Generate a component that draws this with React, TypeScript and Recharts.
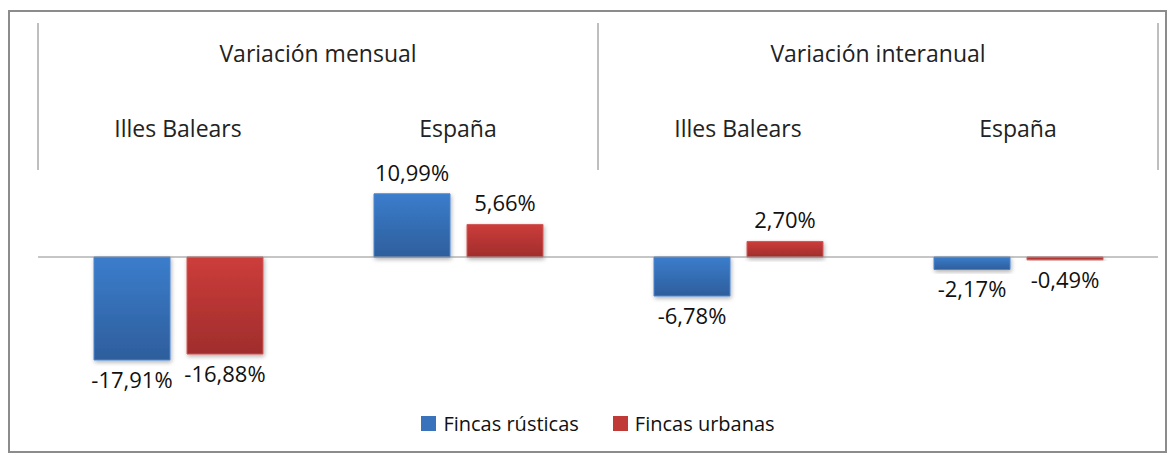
import { Bar, BarChart, LabelList, Legend, ReferenceLine, XAxis, YAxis } from "recharts";

const groups = ["Variación mensual", "Variación interanual"];
const regions = ["Illes Balears", "España", "Illes Balears", "España"];
const rusticas = [-17.91, 10.99, -6.78, -2.17];
const urbanas = [-16.88, 5.66, 2.7, -0.49];

const data = regions.map((region, i) => ({
  key: `${i}`,
  region,
  group: groups[Math.floor(i / 2)],
  rusticas: rusticas[i],
  urbanas: urbanas[i],
}));

const font = "'Open Sans', Lato, sans-serif";
const fmt = (v: number) => `${v.toFixed(2).replace(".", ",")}%`;

function CategoryTick(props: any) {
  const { x, index, payload } = props;
  const band = 280;
  const row = data[index];
  return (
    <g>
      <text x={x} y={125} textAnchor="middle" fontSize={23} fill="#222" fontFamily={font}>
        {row ? row.region : payload.value}
      </text>
      {index % 2 === 0 && (
        <>
          <line x1={x - band / 2} x2={x - band / 2} y1={11} y2={158} stroke="#7f7f7f" />
          <text x={x + band / 2} y={50} textAnchor="middle" fontSize={23} fill="#222" fontFamily={font}>
            {row.group}
          </text>
        </>
      )}
      {index === data.length - 1 && (
        <line x1={x + band / 2} x2={x + band / 2} y1={11} y2={158} stroke="#7f7f7f" />
      )}
    </g>
  );
}

function ValueLabel(props: any) {
  const { x, y, width, height, value } = props;
  const top = Math.min(y, y + height);
  const bottom = Math.max(y, y + height);
  const cx = x + width / 2;
  const ty = value < 0 ? bottom + 28 : top - 13;
  return (
    <text x={cx} y={ty} textAnchor="middle" fontSize={22} fill="#111" fontFamily={font}>
      {fmt(value)}
    </text>
  );
}

function LegendBox() {
  const items = [
    { name: "Fincas rústicas", solid: "#3a72bb" },
    { name: "Fincas urbanas", solid: "#c03a38" },
  ];
  return (
    <div style={{ display: "flex", justifyContent: "center", gap: 34, height: 24, alignItems: "center", fontFamily: font, fontSize: 20, color: "#111" }}>
      {items.map((it) => (
        <div key={it.name} style={{ display: "flex", alignItems: "center", gap: 7 }}>
          <span style={{ width: 15, height: 15, background: it.solid, display: "inline-block" }} />
          <span>{it.name}</span>
        </div>
      ))}
    </div>
  );
}

export default function App() {
  return (
    <div
      style={{
        width: 1159,
        height: 443,
        marginTop: 2,
        border: "2px solid #8c8c8c",
        boxSizing: "border-box",
        background: "#fff",
      }}
    >
      <BarChart
        width={1155}
        height={439}
        data={data}
        margin={{ top: 0, right: 7, bottom: 55, left: 28 }}
        barSize={76}
        barGap={17}
      >
        <defs>
          <linearGradient id="blueGrad" x1="0" y1="0" x2="0" y2="1">
            <stop offset="0%" stopColor="#3b7dcc" />
            <stop offset="100%" stopColor="#2e5e9c" />
          </linearGradient>
          <linearGradient id="redGrad" x1="0" y1="0" x2="0" y2="1">
            <stop offset="0%" stopColor="#cc3d3b" />
            <stop offset="100%" stopColor="#a02d2c" />
          </linearGradient>
          <filter id="shadow" x="-10%" y="-10%" width="130%" height="140%">
            <feDropShadow dx="1" dy="2" stdDeviation="2" floodColor="#000" floodOpacity="0.3" />
          </filter>
        </defs>
        <XAxis
          dataKey="key"
          orientation="top"
          height={15}
          axisLine={false}
          tickLine={false}
          tick={<CategoryTick />}
          interval={0}
        />
        <YAxis hide domain={[-20, 40]} />
        <ReferenceLine y={0} stroke="#8c8c8c" strokeWidth={1} />
        <Legend verticalAlign="bottom" content={<LegendBox />} wrapperStyle={{ bottom: 16 }} />
        <Bar dataKey="rusticas" name="Fincas rústicas" fill="url(#blueGrad)" stroke="#4a86d2" strokeWidth={1} filter="url(#shadow)" isAnimationActive={false}>
          <LabelList dataKey="rusticas" content={<ValueLabel />} />
        </Bar>
        <Bar dataKey="urbanas" name="Fincas urbanas" fill="url(#redGrad)" stroke="#d35a58" strokeWidth={1} filter="url(#shadow)" isAnimationActive={false}>
          <LabelList dataKey="urbanas" content={<ValueLabel />} />
        </Bar>
      </BarChart>
    </div>
  );
}
